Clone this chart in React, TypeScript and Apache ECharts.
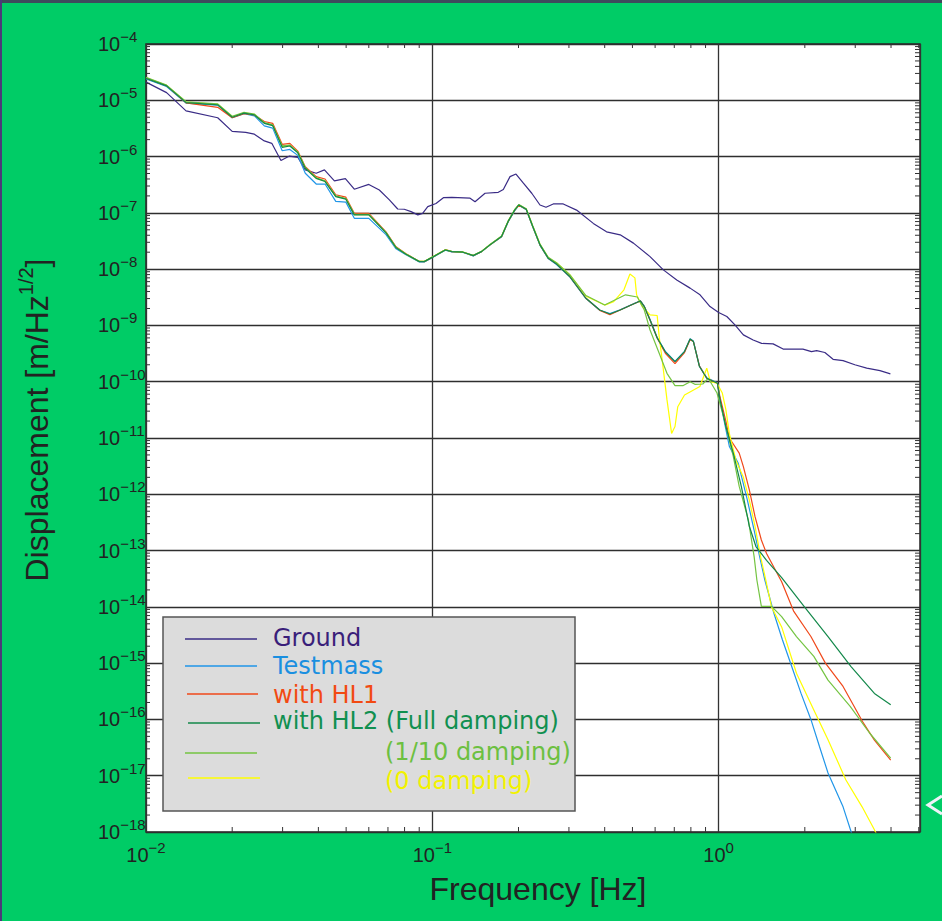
import React, { useEffect, useRef } from "react";
import * as echarts from "echarts";

const FONT = '"Liberation Sans", Arial, Helvetica, sans-serif';
const LEGEND_FONT = '"DejaVu Sans", "Liberation Sans", sans-serif';

// Frequency axis range [Hz] and displacement decades
const freqMin = 0.01;
const freqMax = 5.05;
const expMin = -18;
const expMax = -4;

const groundData: [number, number][] = [
  [0.01, 2.1e-5], [0.0118, 1.37e-5], [0.0138, 6.5e-6], [0.0178, 4.9e-6], [0.02, 2.8e-6],
  [0.0223, 2.7e-6], [0.0239, 2.5e-6], [0.0259, 1.9e-6], [0.0275, 1.72e-6], [0.0296, 8.5e-7],
  [0.0317, 1.02e-6], [0.0339, 9.7e-7], [0.036, 5.8e-7], [0.0393, 5.05e-7], [0.042, 5.8e-7],
  [0.0455, 3.7e-7], [0.0497, 4.05e-7], [0.0534, 2.63e-7], [0.06, 3.2e-7], [0.0653, 2.55e-7],
  [0.0708, 1.7e-7], [0.0757, 1.17e-7], [0.0798, 1.16e-7], [0.0843, 1.05e-7], [0.089, 9.2e-8],
  [0.0925, 9.8e-8], [0.0964, 1.29e-7], [0.103, 1.47e-7], [0.1093, 1.86e-7], [0.117, 1.89e-7],
  [0.1355, 1.82e-7], [0.141, 1.58e-7], [0.1528, 2.23e-7], [0.17, 2.32e-7], [0.177, 2.6e-7],
  [0.1868, 4.4e-7], [0.196, 4.9e-7], [0.208, 3.36e-7], [0.2225, 2.23e-7], [0.2377, 1.38e-7],
  [0.2495, 1.26e-7], [0.2645, 1.44e-7], [0.2866, 1.44e-7], [0.319, 1.12e-7], [0.365, 6.5e-8],
  [0.406, 4.6e-8], [0.453, 4.07e-8], [0.504, 2.9e-8], [0.576, 1.67e-8], [0.641, 9.7e-9],
  [0.714, 6.4e-9], [0.795, 4.6e-9], [0.861, 3.5e-9], [0.933, 2.16e-9], [1.0, 1.7e-9],
  [1.068, 1.44e-9], [1.14, 1.02e-9], [1.22, 6.8e-10], [1.32, 5.5e-10], [1.413, 4.8e-10],
  [1.55, 4.7e-10], [1.68, 3.8e-10], [1.97, 3.8e-10], [2.11, 3.43e-10], [2.2, 3.57e-10],
  [2.35, 3.3e-10], [2.51, 2.5e-10], [2.72, 2.37e-10], [2.99, 2.0e-10], [3.29, 1.74e-10],
  [3.66, 1.57e-10], [3.98, 1.38e-10],
];

const testmassData: [number, number][] = [
  [0.01, 2.4e-5], [0.0118, 1.76e-5], [0.0138, 8.9e-6], [0.0178, 8.2e-6], [0.02, 4.9e-6],
  [0.022, 5.8e-6], [0.0239, 5.3e-6], [0.0259, 3.5e-6], [0.0277, 3.2e-6], [0.0299, 1.27e-6],
  [0.0318, 1.34e-6], [0.0339, 1.05e-6], [0.036, 5.05e-7], [0.0393, 3.25e-7], [0.0422, 3.25e-7],
  [0.046, 1.6e-7], [0.0499, 1.55e-7], [0.0534, 8.0e-8], [0.06, 8.0e-8], [0.0689, 4.1e-8],
  [0.0747, 2.3e-8], [0.0809, 1.8e-8], [0.0901, 1.34e-8], [0.0937, 1.34e-8], [0.0995, 1.58e-8],
  [0.111, 2.17e-8], [0.117, 2.03e-8], [0.128, 1.98e-8], [0.139, 1.72e-8], [0.1485, 2.03e-8],
  [0.159, 2.68e-8], [0.1746, 3.75e-8], [0.184, 6.9e-8], [0.194, 1.1e-7], [0.2005, 1.36e-7],
  [0.2128, 1.14e-7], [0.2243, 5.6e-8], [0.2377, 2.65e-8], [0.254, 1.54e-8], [0.2715, 1.21e-8],
  [0.302, 7.3e-9], [0.344, 3.0e-9], [0.3846, 1.86e-9], [0.417, 1.62e-9], [0.453, 1.9e-9],
  [0.504, 2.42e-9], [0.5325, 2.75e-9], [0.55, 2.2e-9], [0.576, 1.28e-9], [0.61, 6.1e-10],
  [0.6515, 3.45e-10], [0.704, 2.3e-10], [0.76, 3.45e-10], [0.795, 5.8e-10], [0.816, 5.3e-10],
  [0.857, 1.9e-10], [0.909, 1.17e-10], [0.99, 9.6e-11], [1.01, 5e-11], [1.05, 1.8e-11],
  [1.09, 7.1e-12], [1.17, 3.6e-12], [1.26, 7.9e-13], [1.33, 2.3e-13], [1.39, 7.9e-14],
  [1.45, 3.0e-14], [1.56, 7.7e-15], [1.67, 2.6e-15], [1.8, 8.7e-16], [1.94, 2.9e-16],
  [2.1, 1e-16], [2.25, 3.3e-17], [2.41, 1.12e-17], [2.72, 2.8e-18], [2.9, 1.02e-18], [3.0, 6e-19],
];

const hl1Data: [number, number][] = [
  [0.01, 2.5e-5], [0.0118, 1.82e-5], [0.0138, 9.0e-6], [0.0178, 7.5e-6], [0.02, 4.9e-6],
  [0.022, 5.8e-6], [0.0239, 5.5e-6], [0.0259, 4.2e-6], [0.0277, 3.9e-6], [0.0299, 1.65e-6],
  [0.0318, 1.72e-6], [0.0339, 1.25e-6], [0.036, 6.6e-7], [0.0393, 4.4e-7], [0.0422, 4.0e-7],
  [0.046, 2.1e-7], [0.0499, 1.9e-7], [0.0534, 9.8e-8], [0.06, 9.8e-8], [0.0689, 4.6e-8],
  [0.0747, 2.5e-8], [0.0809, 1.88e-8], [0.0901, 1.37e-8], [0.0937, 1.36e-8], [0.0995, 1.6e-8],
  [0.111, 2.22e-8], [0.117, 2.05e-8], [0.128, 2.0e-8], [0.139, 1.74e-8], [0.1485, 2.05e-8],
  [0.159, 2.7e-8], [0.1746, 3.8e-8], [0.184, 7.0e-8], [0.194, 1.12e-7], [0.2005, 1.36e-7],
  [0.2128, 1.16e-7], [0.2243, 5.7e-8], [0.2377, 2.7e-8], [0.254, 1.56e-8], [0.2715, 1.25e-8],
  [0.302, 7.4e-9], [0.344, 3.04e-9], [0.3846, 1.85e-9], [0.417, 1.55e-9], [0.453, 1.88e-9],
  [0.504, 2.4e-9], [0.5325, 2.72e-9], [0.55, 2.16e-9], [0.576, 1.25e-9], [0.61, 6e-10],
  [0.6515, 3.2e-10], [0.704, 2.1e-10], [0.76, 3.3e-10], [0.795, 5.6e-10], [0.816, 5.2e-10],
  [0.857, 1.9e-10], [0.909, 1.15e-10], [0.99, 9.4e-11], [1.01, 5.5e-11], [1.06, 2.0e-11],
  [1.09, 1e-11], [1.18, 5.4e-12], [1.22, 3.1e-12], [1.28, 1.2e-12], [1.34, 4e-13],
  [1.41, 1.54e-13], [1.47, 8.9e-14], [1.66, 2.8e-14], [1.83, 8.3e-15], [2.1, 2.97e-15],
  [2.36, 1.0e-15], [2.72, 3.85e-16], [3.18, 9.2e-17], [3.5, 4.3e-17], [3.99, 1.9e-17],
];

const hl2FullData: [number, number][] = [
  [0.01, 2.45e-5], [0.0118, 1.8e-5], [0.0138, 9.1e-6], [0.0178, 8.3e-6], [0.02, 5.0e-6],
  [0.022, 5.9e-6], [0.0239, 5.5e-6], [0.0259, 3.9e-6], [0.0277, 3.55e-6], [0.0299, 1.46e-6],
  [0.0318, 1.54e-6], [0.0339, 1.17e-6], [0.036, 6.2e-7], [0.0393, 4.1e-7], [0.0422, 3.6e-7],
  [0.046, 1.94e-7], [0.0499, 1.75e-7], [0.0534, 9.2e-8], [0.06, 9.2e-8], [0.0689, 4.4e-8],
  [0.0747, 2.4e-8], [0.0809, 1.84e-8], [0.0901, 1.36e-8], [0.0937, 1.36e-8], [0.0995, 1.6e-8],
  [0.111, 2.19e-8], [0.117, 2.05e-8], [0.128, 2.0e-8], [0.139, 1.74e-8], [0.1485, 2.05e-8],
  [0.159, 2.7e-8], [0.1746, 3.8e-8], [0.184, 7.0e-8], [0.194, 1.12e-7], [0.2005, 1.38e-7],
  [0.2128, 1.16e-7], [0.2243, 5.7e-8], [0.2377, 2.7e-8], [0.254, 1.56e-8], [0.2715, 1.23e-8],
  [0.302, 7.4e-9], [0.344, 3.04e-9], [0.3846, 1.88e-9], [0.417, 1.6e-9], [0.453, 1.88e-9],
  [0.504, 2.4e-9], [0.5325, 2.72e-9], [0.55, 2.16e-9], [0.576, 1.25e-9], [0.61, 6e-10],
  [0.6515, 3.4e-10], [0.704, 2.28e-10], [0.76, 3.43e-10], [0.795, 5.75e-10], [0.816, 5.2e-10],
  [0.857, 1.86e-10], [0.909, 1.15e-10], [0.99, 9.4e-11], [1.01, 5e-11], [1.06, 1.6e-11],
  [1.125, 5.4e-12], [1.2, 1.38e-12], [1.28, 2.7e-13], [1.35, 1.18e-13], [1.47, 6.7e-14],
  [1.66, 3.3e-14], [2.0, 9.8e-15], [2.41, 2.97e-15], [2.9, 8.7e-16], [3.5, 2.9e-16], [3.99, 1.83e-16],
];

const hl2TenthData: [number, number][] = [
  [0.01, 2.55e-5], [0.0118, 1.86e-5], [0.0138, 9.4e-6], [0.0178, 8.6e-6], [0.02, 5.2e-6],
  [0.022, 6.1e-6], [0.0239, 5.7e-6], [0.0259, 4.0e-6], [0.0277, 3.65e-6], [0.0299, 1.55e-6],
  [0.0318, 1.6e-6], [0.0339, 1.2e-6], [0.036, 6.4e-7], [0.0393, 4.2e-7], [0.0422, 3.7e-7],
  [0.046, 2.0e-7], [0.0499, 1.8e-7], [0.0534, 9.4e-8], [0.06, 9.4e-8], [0.0689, 4.5e-8],
  [0.0747, 2.45e-8], [0.0809, 1.86e-8], [0.0901, 1.37e-8], [0.0937, 1.37e-8], [0.0995, 1.62e-8],
  [0.111, 2.2e-8], [0.117, 2.07e-8], [0.128, 2.02e-8], [0.139, 1.76e-8], [0.1485, 2.07e-8],
  [0.159, 2.75e-8], [0.1746, 3.9e-8], [0.184, 7.2e-8], [0.194, 1.15e-7], [0.2005, 1.4e-7],
  [0.2128, 1.18e-7], [0.2243, 5.9e-8], [0.2377, 2.8e-8], [0.254, 1.62e-8], [0.2715, 1.3e-8],
  [0.302, 8.0e-9], [0.344, 3.4e-9], [0.4, 2.3e-9], [0.473, 3.5e-9], [0.52, 3.2e-9],
  [0.55, 1.88e-9], [0.576, 8.3e-10], [0.62, 3.2e-10], [0.66, 1.41e-10], [0.704, 8.5e-11],
  [0.75, 8.5e-11], [0.795, 1.0e-10], [0.826, 9e-11], [0.88, 9.1e-11], [0.92, 1.15e-10],
  [0.987, 6.3e-11], [1.04, 2.4e-11], [1.125, 4.7e-12], [1.18, 1.38e-12], [1.27, 3.5e-13],
  [1.33, 7.9e-14], [1.36, 3e-14], [1.41, 1.02e-14], [1.53, 1.02e-14], [1.66, 6.7e-15],
  [1.87, 2.97e-15], [2.15, 1.32e-15], [2.41, 5.0e-16], [2.88, 1.7e-16], [3.36, 5.8e-17], [3.99, 2.05e-17],
];

const hl2ZeroData: [number, number][] = [
  [0.01, 2.5e-5], [0.0118, 1.84e-5], [0.0138, 9.3e-6], [0.0178, 8.5e-6], [0.02, 5.1e-6],
  [0.022, 6.0e-6], [0.0239, 5.6e-6], [0.0259, 3.95e-6], [0.0277, 3.6e-6], [0.0299, 1.5e-6],
  [0.0318, 1.58e-6], [0.0339, 1.19e-6], [0.036, 6.3e-7], [0.0393, 4.15e-7], [0.0422, 3.65e-7],
  [0.046, 1.97e-7], [0.0499, 1.78e-7], [0.0534, 9.3e-8], [0.06, 9.3e-8], [0.0689, 4.45e-8],
  [0.0747, 2.42e-8], [0.0809, 1.85e-8], [0.0901, 1.37e-8], [0.0937, 1.37e-8], [0.0995, 1.62e-8],
  [0.111, 2.2e-8], [0.117, 2.06e-8], [0.128, 2.01e-8], [0.139, 1.75e-8], [0.1485, 2.06e-8],
  [0.159, 2.72e-8], [0.1746, 3.85e-8], [0.184, 7.1e-8], [0.194, 1.13e-7], [0.2005, 1.39e-7],
  [0.2128, 1.17e-7], [0.2243, 5.8e-8], [0.2377, 2.75e-8], [0.254, 1.6e-8], [0.2715, 1.3e-8],
  [0.302, 8.0e-9], [0.344, 3.3e-9], [0.4, 2.3e-9], [0.43, 2.65e-9], [0.467, 4.3e-9],
  [0.49, 8.2e-9], [0.51, 7e-9], [0.517, 3.5e-9], [0.54, 2.2e-9], [0.576, 1.54e-9],
  [0.61, 1.5e-9], [0.62, 6.3e-10], [0.635, 2.45e-10], [0.66, 4.8e-11], [0.685, 1.2e-11],
  [0.704, 1.6e-11], [0.72, 3.6e-11], [0.76, 5.8e-11], [0.8, 6.7e-11], [0.86, 8.2e-11],
  [0.909, 1.74e-10], [0.935, 1.0e-10], [0.987, 9.4e-11], [1.03, 6.3e-11], [1.06, 3.2e-11],
  [1.09, 1.2e-11], [1.15, 4e-12], [1.22, 2e-12], [1.28, 7.9e-13], [1.34, 2.7e-13],
  [1.4, 8e-14], [1.47, 2.6e-14], [1.53, 1.0e-14], [1.66, 4.4e-15], [1.87, 6.6e-16],
  [2.15, 1.47e-16], [2.41, 4.35e-17], [2.78, 8.5e-18], [3.17, 2.8e-18], [3.5, 1.1e-18], [3.7, 6e-19],
];

const seriesNames = [
  "Ground",
  "Testmass",
  "with HL1",
  "with HL2 (Full damping)",
  "(1/10 damping)",
  "(0 damping)",
];
const lineColors = ["#3A2C86", "#2196E8", "#F0481A", "#13884A", "#74C442", "#FFFF00"];
const textColors = ["#3A1F7A", "#1A8FE0", "#F24A12", "#119050", "#6CC040", "#F2F200"];
const seriesData = [groundData, testmassData, hl1Data, hl2FullData, hl2TenthData, hl2ZeroData];
const drawOrder = [0, 1, 2, 5, 4, 3];

const toLog = (d: [number, number][]) => d.map(([f, v]) => [Math.log10(f), Math.log10(v)]);

const supText = (n: number) => String(n).replace("-", "\u2212");

export default function App() {
  const ref = useRef<HTMLDivElement>(null);

  useEffect(() => {
    if (!ref.current) return;
    const chart = echarts.init(ref.current, null, { renderer: "svg" });

    const xLogMin = Math.log10(freqMin);
    const xLogMax = Math.log10(freqMax);

    // minor tick positions (2..9 in each decade)
    const xMinor: number[][] = [];
    for (let e = -2; e <= 0; e++) {
      for (let k = 2; k <= 9; k++) {
        const f = k * Math.pow(10, e);
        if (f < freqMax) xMinor.push([Math.log10(f), expMin]);
      }
    }
    const yMinor: number[][] = [];
    for (let e = expMin; e < expMax; e++) {
      for (let k = 2; k <= 9; k++) yMinor.push([xLogMin, e + Math.log10(k)]);
    }

    const labelFormatter = (v: number) => {
      const r = Math.round(v);
      if (Math.abs(v - r) > 1e-6) return "";
      return `{b|10}{s|${supText(r)}}`;
    };
    const labelRich = {
      b: { fontSize: 20, color: "#222", fontFamily: FONT },
      s: { fontSize: 15, color: "#222", fontFamily: FONT, padding: [0, 0, 15, 0] },
    };

    const tickStyle = { stroke: "#333", lineWidth: 1 };

    const lineSeries = drawOrder.map((i) => ({
      name: seriesNames[i],
      type: "line",
      data: toLog(seriesData[i]),
      showSymbol: false,
      symbol: "none",
      clip: true,
      lineStyle: { color: lineColors[i], width: 1.2 },
      z: 3,
    }));

    const legendLineY = [639, 666, 694, 723, 753, 778];
    const legendLineX = [
      [185, 257],
      [185, 257],
      [187, 258],
      [188, 260],
      [185, 257],
      [188, 260],
    ];
    const legendTextX = [273, 273, 273, 273, 385, 385];
    const legendTextY = [638, 666, 695, 721, 752, 781];

    const legendGraphics: any[] = [
      {
        type: "rect",
        shape: { x: 163, y: 617, width: 412, height: 194 },
        style: { fill: "#DCDCDC", stroke: "#555", lineWidth: 1.5 },
        z: 10,
      },
    ];
    seriesNames.forEach((name, i) => {
      legendGraphics.push({
        type: "line",
        shape: { x1: legendLineX[i][0], y1: legendLineY[i], x2: legendLineX[i][1], y2: legendLineY[i] },
        style: { stroke: lineColors[i], lineWidth: 1.5 },
        z: 11,
      });
      legendGraphics.push({
        type: "text",
        x: legendTextX[i],
        y: legendTextY[i],
        style: {
          text: name,
          fill: textColors[i],
          fontSize: 24,
          fontFamily: LEGEND_FONT,
          align: "left",
          verticalAlign: "middle",
        },
        z: 11,
      });
    });

    chart.setOption({
      animation: false,
      backgroundColor: "#00CC66",
      grid: {
        left: 146,
        right: 22,
        top: 44,
        bottom: 89,
        show: true,
        backgroundColor: "#ffffff",
        borderColor: "#2a2a2a",
        borderWidth: 1.5,
        containLabel: false,
      },
      xAxis: {
        type: "value",
        min: xLogMin,
        max: xLogMax,
        interval: 1,
        axisLine: { show: false },
        axisTick: { show: false },
        splitLine: { show: true, lineStyle: { color: "#333", width: 1.3 } },
        axisLabel: {
          margin: 8,
          showMaxLabel: false,
          formatter: labelFormatter,
          rich: labelRich,
        },
      },
      yAxis: {
        type: "value",
        min: expMin,
        max: expMax,
        interval: 1,
        axisLine: { show: false },
        axisTick: { show: false },
        splitLine: { show: true, lineStyle: { color: "#2e2e2e", width: 1.3 } },
        axisLabel: {
          margin: 48,
          align: "left",
          formatter: labelFormatter,
          rich: labelRich,
        },
      },
      series: [
        ...lineSeries,
        {
          type: "custom",
          silent: true,
          clip: false,
          z: 5,
          data: xMinor,
          renderItem: (params: any, api: any) => {
            const x = api.value(0);
            const pb = api.coord([x, expMin]);
            const pt = api.coord([x, expMax]);
            return {
              type: "group",
              children: [
                { type: "line", shape: { x1: pb[0], y1: pb[1], x2: pb[0], y2: pb[1] - 5 }, style: tickStyle },
                { type: "line", shape: { x1: pt[0], y1: pt[1], x2: pt[0], y2: pt[1] + 4 }, style: tickStyle },
              ],
            };
          },
        },
        {
          type: "custom",
          silent: true,
          clip: false,
          z: 5,
          data: yMinor,
          renderItem: (params: any, api: any) => {
            const y = api.value(1);
            const pl = api.coord([xLogMin, y]);
            const pr = api.coord([xLogMax, y]);
            return {
              type: "group",
              children: [
                { type: "line", shape: { x1: pl[0], y1: pl[1], x2: pl[0] + 4, y2: pl[1] }, style: tickStyle },
                { type: "line", shape: { x1: pr[0], y1: pr[1], x2: pr[0] - 5, y2: pr[1] }, style: tickStyle },
              ],
            };
          },
        },
      ],
      graphic: [
        { type: "rect", shape: { x: 0, y: 0, width: 942, height: 3 }, style: { fill: "#3E4A5C" }, z: 20 },
        { type: "rect", shape: { x: 0, y: 0, width: 2, height: 921 }, style: { fill: "#4B3A7A" }, z: 20 },
        {
          type: "polyline",
          shape: { points: [[942, 796], [928, 805], [942, 814]] },
          style: { stroke: "#EEF2F8", lineWidth: 3, fill: "none" },
          z: 20,
        },
        {
          type: "text",
          x: 37,
          y: 420,
          rotation: Math.PI / 2,
          style: {
            text: "{t|Displacement [m/Hz}{s|1/2}{t|]}",
            align: "center",
            verticalAlign: "middle",
            rich: {
              t: { fontSize: 32, fill: "#222", fontFamily: FONT },
              s: { fontSize: 20, fill: "#222", fontFamily: FONT, padding: [0, 0, 22, 0] },
            },
          },
          z: 20,
        },
        {
          type: "text",
          x: 538,
          y: 889,
          style: {
            text: "Frequency [Hz]",
            fill: "#222",
            fontSize: 32,
            fontFamily: FONT,
            align: "center",
            verticalAlign: "middle",
          },
          z: 20,
        },
        ...legendGraphics,
      ],
    });

    return () => chart.dispose();
  }, []);

  return (
    <div
      ref={ref}
      style={{ position: "fixed", left: 0, top: 0, width: 942, height: 921 }}
    />
  );
}
